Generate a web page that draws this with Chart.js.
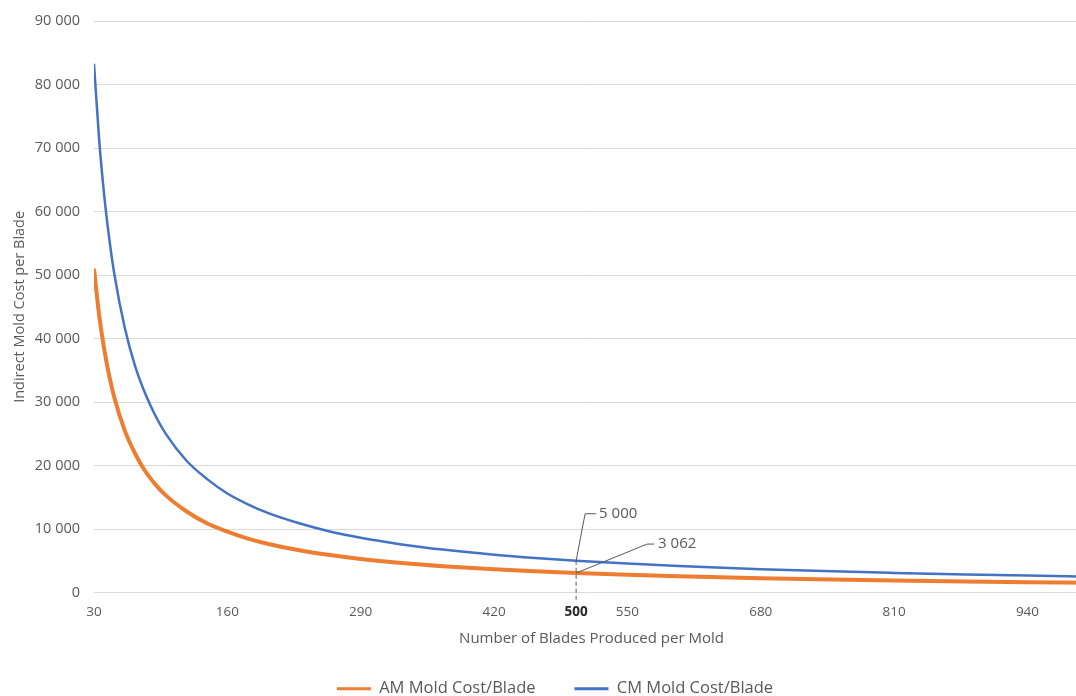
<!DOCTYPE html>
<html>
<head>
<meta charset="utf-8">
<script src="https://cdn.jsdelivr.net/npm/chart.js@4"></script>
<style>
  html, body { margin: 0; padding: 0; background: #fff; overflow: hidden; }
  #wrap { width: 1110px; height: 707px; }
</style>
</head>
<body>
<div id="wrap"><canvas id="costChart"></canvas></div>
<script>
// DATA
var bladeCounts = [30, 35, 40, 45, 50, 60, 70, 80, 90, 100, 120, 140, 160, 180, 200, 230, 260, 290, 330, 370, 420, 460, 500, 550, 600, 680, 750, 810, 880, 940, 1000];
var amCost = [51000, 43700, 38300, 34000, 30600, 25500, 21900, 19100, 17000, 15300, 12800, 10900, 9600, 8500, 7650, 6650, 5900, 5280, 4640, 4140, 3650, 3330, 3062, 2780, 2550, 2250, 2040, 1890, 1740, 1630, 1530];
var cmCost = [83300, 71400, 62500, 55600, 50000, 41700, 35700, 31300, 27800, 25000, 20800, 17900, 15600, 13900, 12500, 10900, 9600, 8620, 7580, 6760, 5950, 5430, 5000, 4550, 4170, 3680, 3330, 3090, 2840, 2660, 2500];
var xTickValues = [30, 160, 290, 420, 500, 550, 680, 810, 940];
var highlightBlades = 500;

var FONT = "'Open Sans', 'Noto Sans', sans-serif";
var GREY = '#595959';

function spaced(v) {
    return String(Math.round(v)).replace(/\B(?=(\d{3})+(?!\d))/g, ' ');
}

document.addEventListener('DOMContentLoaded', function(){

var ctx = document.getElementById('costChart').getContext('2d');

// callouts at the highlighted blade count
var calloutPlugin = {
    id: 'callouts',
    afterDatasetsDraw: function(chart) {
        var xs = chart.scales.x, ys = chart.scales.y;
        var i = bladeCounts.indexOf(highlightBlades);
        if (i < 0) return;
        var px = xs.getPixelForValue(highlightBlades);
        var pyCM = ys.getPixelForValue(cmCost[i]);
        var pyAM = ys.getPixelForValue(amCost[i]);
        var c = chart.ctx;
        c.save();
        c.strokeStyle = GREY;
        c.lineWidth = 1;
        // dashed drop line
        c.setLineDash([4, 3]);
        c.beginPath();
        c.moveTo(px, pyCM);
        c.lineTo(px, chart.chartArea.bottom + 10);
        c.stroke();
        c.setLineDash([]);
        // leader for CM
        c.beginPath();
        c.moveTo(px, pyCM);
        c.lineTo(px + 9, pyCM - 47);
        c.lineTo(px + 20, pyCM - 47);
        c.stroke();
        // leader for AM
        c.beginPath();
        c.moveTo(px, pyAM);
        c.lineTo(px + 71, pyAM - 29);
        c.lineTo(px + 78, pyAM - 29);
        c.stroke();
        c.fillStyle = GREY;
        c.font = '15px ' + FONT;
        c.textBaseline = 'middle';
        c.fillText(spaced(cmCost[i]), px + 23, pyCM - 47);
        c.fillText(spaced(amCost[i]), px + 82, pyAM - 29);
        c.restore();
    }
};

var chart = new Chart(ctx, {
    type: 'line',
    data: {
        datasets: [{
            label: 'AM Mold Cost/Blade',
            data: bladeCounts.map(function(b, i){ return {x: b, y: amCost[i]}; }),
            borderColor: '#ED7D31',
            backgroundColor: '#ED7D31',
            borderWidth: 4,
            pointRadius: 0,
            cubicInterpolationMode: 'monotone'
        }, {
            label: 'CM Mold Cost/Blade',
            data: bladeCounts.map(function(b, i){ return {x: b, y: cmCost[i]}; }),
            borderColor: '#4472C4',
            backgroundColor: '#4472C4',
            borderWidth: 2.5,
            pointRadius: 0,
            cubicInterpolationMode: 'monotone'
        }]
    },
    options: {
        responsive: true,
        maintainAspectRatio: false,
        animation: false,
        layout: { padding: { top: 20, right: 21, left: 21, bottom: 0 } },
        plugins: {
            tooltip: { enabled: false },
            legend: {
                position: 'bottom',
                labels: {
                    font: { family: FONT, size: 16.5 },
                    color: GREY,
                    boxWidth: 34,
                    boxHeight: 3,
                    padding: 39,
                    generateLabels: function(ch) {
                        var items = Chart.defaults.plugins.legend.labels.generateLabels(ch);
                        items.forEach(function(it){ it.lineWidth = 0; });
                        return items;
                    }
                }
            }
        },
        scales: {
            x: {
                type: 'linear',
                min: 30,
                max: 1000,
                grid: { display: false, drawTicks: false },
                border: { display: false },
                afterBuildTicks: function(scale) {
                    scale.ticks = xTickValues.map(function(v){ return {value: v}; });
                },
                afterFit: function(scale) { scale.height = 49; },
                ticks: {
                    autoSkip: false,
                    maxRotation: 0,
                    padding: 12,
                    color: function(c){ return c.tick && c.tick.value === highlightBlades ? '#262626' : GREY; },
                    font: function(c) {
                        return {
                            family: FONT, size: 13.5,
                            weight: c.tick && c.tick.value === highlightBlades ? 'bold' : 'normal'
                        };
                    },
                    callback: function(v){ return String(v); }
                },
                title: {
                    display: true,
                    text: 'Number of Blades Produced per Mold',
                    color: GREY,
                    font: { family: FONT, size: 15 },
                    padding: { top: 0, bottom: -6 }
                }
            },
            y: {
                min: 0,
                max: 90000,
                grid: { color: '#d9d9d9', lineWidth: 1, drawTicks: false },
                border: { display: false },
                afterFit: function(scale) { scale.width = 73; },
                ticks: {
                    stepSize: 10000,
                    padding: 14,
                    color: GREY,
                    font: { family: FONT, size: 14.5, lineHeight: 1 },
                    callback: function(v){ return spaced(v); }
                },
                title: {
                    display: true,
                    text: 'Indirect Mold Cost per Blade',
                    color: GREY,
                    font: { family: FONT, size: 14.5 },
                    padding: { top: -10, bottom: 0 }
                }
            }
        }
    },
    plugins: [calloutPlugin]
});

});
</script>
</body>
</html>
